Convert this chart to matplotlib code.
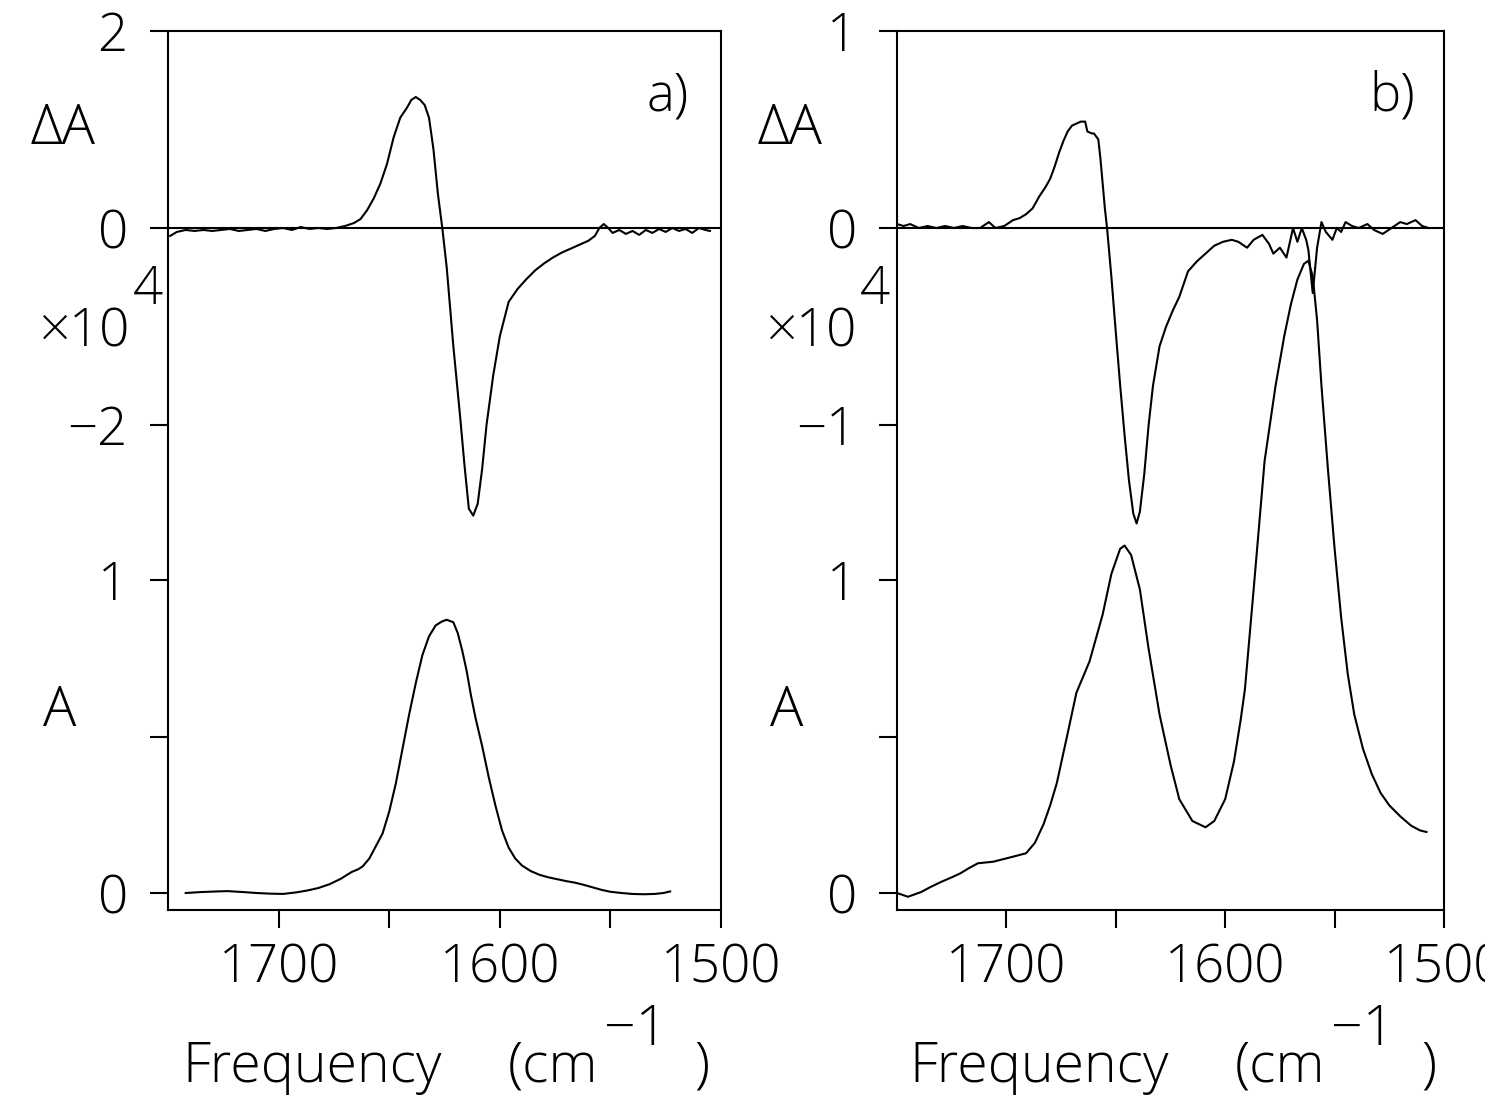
import matplotlib
matplotlib.use("Agg")
import matplotlib.pyplot as plt

# ---- spectra (wavenumber in cm^-1) ----
# panel a: difference spectrum (x 1e4) and absorbance
a_dA_wn = [1749, 1746, 1742, 1738, 1734, 1730, 1726, 1722, 1718, 1714, 1710, 1706,
           1702, 1698, 1694, 1690, 1686, 1682, 1678, 1674, 1670, 1666, 1663, 1660,
           1657, 1654, 1651, 1648, 1645, 1642, 1640, 1638, 1636, 1634, 1632, 1630,
           1628, 1626, 1624, 1621, 1618, 1616, 1614, 1612, 1610, 1608, 1606, 1603,
           1600, 1596, 1592, 1588, 1584, 1580, 1576, 1572, 1568, 1564, 1560, 1557,
           1555, 1553, 1551, 1549, 1546, 1543, 1540, 1537, 1534, 1531, 1528, 1525,
           1522, 1519, 1516, 1513, 1510, 1507, 1505]
a_dA = [-0.08, -0.04, -0.02, -0.03, -0.02, -0.03, -0.02, -0.01, -0.03, -0.02, -0.01, -0.03,
        -0.01, 0.00, -0.02, 0.01, -0.01, 0.00, -0.01, 0.00, 0.02, 0.05, 0.09, 0.18,
        0.30, 0.45, 0.65, 0.92, 1.12, 1.22, 1.30, 1.33, 1.30, 1.25, 1.12, 0.80,
        0.35, 0.00, -0.40, -1.20, -1.90, -2.40, -2.85, -2.92, -2.80, -2.45, -2.00, -1.50,
        -1.10, -0.75, -0.62, -0.52, -0.43, -0.36, -0.30, -0.25, -0.21, -0.17, -0.13, -0.08,
        0.00, 0.04, 0.00, -0.05, -0.02, -0.06, -0.03, -0.07, -0.02, -0.05, -0.01, -0.04,
        0.00, -0.03, -0.01, -0.05, 0.00, -0.02, -0.03]

a_A_wn = [1742, 1735, 1728, 1723, 1716, 1710, 1704, 1698, 1692, 1687, 1682, 1677,
          1672, 1667, 1664, 1662, 1659, 1656, 1653, 1650, 1647, 1644, 1641, 1638,
          1635, 1632, 1629, 1626, 1624, 1621, 1619, 1617, 1615, 1613, 1611, 1608,
          1605, 1602, 1599, 1596, 1593, 1590, 1586, 1582, 1578, 1574, 1570, 1566,
          1562, 1558, 1554, 1550, 1545, 1540, 1535, 1530, 1526, 1523]
a_A = [0.000, 0.003, 0.005, 0.006, 0.003, 0.000, -0.002, -0.003, 0.002, 0.008, 0.016, 0.028,
       0.045, 0.067, 0.076, 0.085, 0.110, 0.150, 0.190, 0.260, 0.350, 0.460, 0.570, 0.670,
       0.760, 0.820, 0.855, 0.868, 0.873, 0.865, 0.830, 0.775, 0.710, 0.630, 0.560, 0.470,
       0.370, 0.280, 0.200, 0.145, 0.110, 0.088, 0.070, 0.058, 0.050, 0.044, 0.038, 0.033,
       0.026, 0.018, 0.010, 0.004, 0.000, -0.003, -0.004, -0.003, 0.000, 0.005]

# panel b: difference spectrum (x 1e4) and absorbance
b_dA_wn = [1750, 1747, 1744, 1740, 1736, 1732, 1728, 1724, 1720, 1716, 1712, 1708,
           1705, 1701, 1697, 1694, 1691, 1688, 1685, 1682, 1680, 1678, 1676, 1674,
           1672, 1670, 1668, 1666, 1664, 1663, 1661, 1660, 1658, 1657, 1655, 1654,
           1652, 1650, 1648, 1646, 1644, 1642, 1640.5, 1639, 1637, 1635, 1633, 1630,
           1627, 1624, 1621, 1617, 1613, 1609, 1605, 1601, 1597, 1594, 1590, 1587,
           1583, 1580, 1578, 1575, 1572, 1570, 1569, 1567, 1565, 1563, 1562, 1560,
           1558, 1556, 1554, 1551, 1549, 1547, 1545, 1542, 1539, 1535, 1532, 1528,
           1524, 1520, 1517, 1513, 1510, 1507]
b_dA = [0.02, 0.01, 0.02, 0.00, 0.01, 0.00, 0.01, 0.00, 0.01, 0.00, 0.00, 0.03,
        0.00, 0.01, 0.04, 0.05, 0.07, 0.10, 0.16, 0.21, 0.25, 0.31, 0.38, 0.44,
        0.49, 0.52, 0.53, 0.54, 0.54, 0.49, 0.48, 0.48, 0.45, 0.35, 0.10, 0.00,
        -0.25, -0.53, -0.80, -1.05, -1.28, -1.45, -1.50, -1.44, -1.25, -1.00, -0.80, -0.60,
        -0.50, -0.42, -0.35, -0.22, -0.17, -0.13, -0.09, -0.07, -0.06, -0.07, -0.10, -0.06,
        -0.035, -0.08, -0.13, -0.10, -0.15, -0.05, 0.00, -0.07, 0.00, -0.06, -0.11, -0.33,
        -0.10, 0.03, -0.02, -0.06, 0.00, -0.02, 0.03, 0.01, 0.00, 0.02, -0.01, -0.03,
        0.00, 0.03, 0.02, 0.04, 0.01, 0.00]

b_A_wn = [1750, 1745, 1739, 1735, 1730, 1725, 1721, 1717, 1713, 1706, 1697, 1691,
          1687, 1683, 1680, 1677, 1672, 1668, 1662, 1656, 1652, 1648, 1646, 1643,
          1639, 1635, 1630, 1625, 1621, 1615, 1609, 1605, 1600, 1596, 1593, 1591,
          1587, 1582, 1577, 1573, 1570, 1567, 1564, 1562, 1560, 1558, 1556, 1553,
          1550, 1547, 1544, 1541, 1537, 1533, 1529, 1525, 1520, 1515, 1511, 1508]
b_A = [0.000, -0.012, 0.003, 0.018, 0.035, 0.050, 0.063, 0.080, 0.095, 0.100, 0.116, 0.127,
       0.160, 0.220, 0.280, 0.350, 0.510, 0.640, 0.740, 0.890, 1.020, 1.100, 1.110, 1.080,
       0.970, 0.780, 0.570, 0.410, 0.300, 0.230, 0.210, 0.230, 0.300, 0.420, 0.550, 0.650,
       0.970, 1.380, 1.620, 1.780, 1.880, 1.960, 2.010, 2.020, 1.970, 1.830, 1.620, 1.350,
       1.100, 0.880, 0.700, 0.570, 0.460, 0.380, 0.320, 0.280, 0.245, 0.215, 0.200, 0.195]

# ---- axis ticks ----
x_ticks = [1700, 1650, 1600, 1550, 1500]
x_ticklabels = ["1700", "", "1600", "", "1500"]
a_dA_ticks = [2, 0, -2]
a_dA_ticklabels = ["2", "0", "\u22122"]
b_dA_ticks = [1, 0, -1]
b_dA_ticklabels = ["1", "0", "\u22121"]
A_ticks = [1, 0.5, 0]
A_ticklabels = ["1", "", "0"]

W, H = 1485, 1095
plt.rcParams["font.family"] = ["Open Sans", "DejaVu Sans"]
plt.rcParams["font.weight"] = 300

fig = plt.figure(figsize=(W / 100, H / 100), dpi=100)


def fx(xp):
    return xp / W


def fy(yp):
    return 1 - yp / H


LW = 1.5
FS = 38


def panel(x0, x1, dA_wn, dA, dA_lim, dA_ticks, dA_labels, A_wn, A, A_lim):
    rect = [fx(x0), fy(910), fx(x1) - fx(x0), fy(31) - fy(910)]
    ax = fig.add_axes(rect)
    ax.set_xlim(1750, 1500)
    ax.set_ylim(*dA_lim)
    for s in ["left", "bottom", "top", "right"]:
        ax.spines[s].set_linewidth(LW)
    ax.set_xticks(x_ticks)
    ax.set_xticklabels(x_ticklabels)
    ax.set_yticks(dA_ticks)
    ax.set_yticklabels(dA_labels)
    ax.tick_params(axis="x", direction="out", length=13, width=LW, pad=10, labelsize=FS)
    ax.tick_params(axis="y", direction="out", length=13, width=LW, pad=16, labelsize=FS)
    ax.axhline(0, color="k", lw=LW)
    ax.plot(dA_wn, dA, color="k", lw=LW)

    axA = fig.add_axes(rect, sharex=ax)
    axA.patch.set_visible(False)
    for s in axA.spines.values():
        s.set_visible(False)
    axA.set_ylim(*A_lim)
    axA.set_yticks(A_ticks)
    axA.set_yticklabels(A_ticklabels)
    axA.tick_params(axis="y", direction="out", length=13, width=LW, pad=16, labelsize=FS)
    axA.tick_params(axis="x", bottom=False, labelbottom=False)
    axA.plot(A_wn, A, color="k", lw=LW)
    return ax


A_lim = (-0.0543, 2.754)
panel(168, 721, a_dA_wn, a_dA, (-6.924, 2.0), a_dA_ticks, a_dA_ticklabels, a_A_wn, a_A, A_lim)
panel(897, 1444, b_dA_wn, b_dA, (-3.462, 1.0), b_dA_ticks, b_dA_ticklabels, b_A_wn, b_A, A_lim)


def label(xp, yp, s, ha="center", va="center", size=FS):
    fig.text(fx(xp), fy(yp), s, ha=ha, va=va, fontsize=size)


for dx in (0, 727):
    label(63 + dx, 130, "\u0394A", size=40)
    label(130 + dx, 333, "\u00d710", ha="right")
    label(148 + dx, 290, "4")
    label(60 + dx, 711, "A", size=40)
    label(312 + dx, 1082, "Frequency", va="baseline", size=40)
    label(553 + dx, 1082, "(cm", va="baseline", size=40)
    label(636 + dx, 1045, "\u22121", va="baseline", size=40)
    label(702 + dx, 1082, ")", va="baseline", size=40)
label(668, 97, "a)")
label(1392, 97, "b)")

fig.savefig("out.png", dpi=100)
